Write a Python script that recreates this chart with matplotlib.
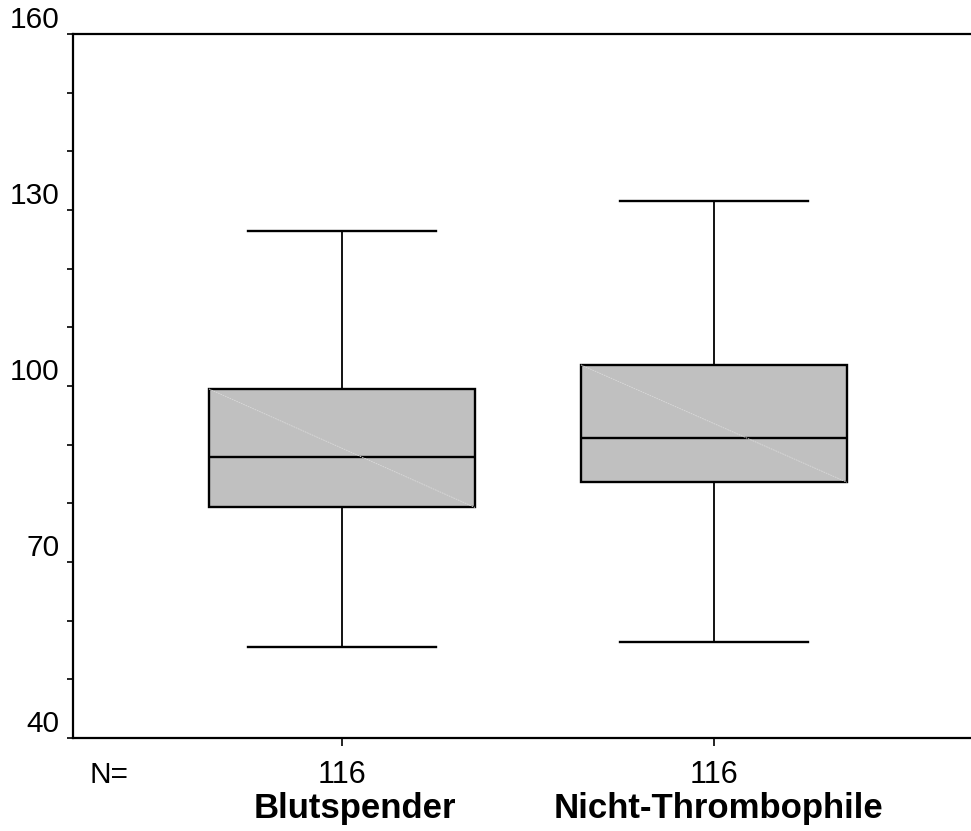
import matplotlib.pyplot as plt
from matplotlib.ticker import MultipleLocator

plt.rcParams['font.family'] = ['Liberation Sans', 'DejaVu Sans']

# box summary per group
groups = ['Blutspender', 'Nicht-Thrombophile']
n_vals = [116, 116]
whisker_low = [55.5, 56.3]
q1 = [79.3, 83.6]
median = [87.9, 91.2]
q3 = [99.5, 103.6]
whisker_high = [126.4, 131.6]
positions = [1, 2]
y_labels = [40, 70, 100, 130, 160]

stats = []
for i in range(len(groups)):
    stats.append({'label': groups[i], 'whislo': whisker_low[i], 'q1': q1[i],
                  'med': median[i], 'q3': q3[i], 'whishi': whisker_high[i], 'fliers': []})

fig = plt.figure(figsize=(9.71, 8.31), dpi=100)
ax = fig.add_axes([0.0752, 0.1119, 0.9248, 0.959 - 0.1119])

bw = 0.715
ax.bxp(stats, positions=positions, widths=bw, capwidths=0.503, patch_artist=True,
       showfliers=False,
       boxprops=dict(facecolor='#c0c0c0', edgecolor='black', linewidth=1.7),
       medianprops=dict(color='black', linewidth=1.7),
       whiskerprops=dict(color='black', linewidth=1.3),
       capprops=dict(color='black', linewidth=1.7))

# faint diagonal across each box
for i in range(len(groups)):
    ax.plot([positions[i] - bw / 2, positions[i] + bw / 2], [q3[i], q1[i]],
            color='#dadada', linewidth=0.6, linestyle=(0, (2, 1)), zorder=2.5)

ax.set_xlim(0.277, 2.691)
ax.set_ylim(40, 160)

ax.spines['right'].set_visible(False)
for s in ['left', 'top', 'bottom']:
    ax.spines[s].set_linewidth(1.6)

ax.set_yticks(y_labels)
ax.yaxis.set_minor_locator(MultipleLocator(10))
ax.tick_params(axis='y', which='both', direction='out', length=4.5, width=1.2,
               labelsize=21.5, pad=5)
for lab in ax.get_yticklabels():
    lab.set_verticalalignment('bottom')

ax.set_xticks(positions)
ax.set_xticklabels([])
ax.tick_params(axis='x', direction='out', length=6, width=1.2)

name_shift = [9, 3]
for i in range(len(groups)):
    ax.annotate(str(n_vals[i]), xy=(positions[i], 0), xycoords=('data', 'axes fraction'),
                xytext=(0, -32.4), textcoords='offset points',
                ha='center', va='baseline', fontsize=22)
    ax.annotate(groups[i], xy=(positions[i], 0), xycoords=('data', 'axes fraction'),
                xytext=(name_shift[i], -57.6), textcoords='offset points',
                ha='center', va='baseline', fontsize=25, fontweight='bold')

ax.annotate('N=', xy=(0, 0), xycoords='axes fraction', xytext=(12.2, -32.4),
            textcoords='offset points', ha='left', va='baseline', fontsize=21.5)

fig.savefig('out.png', dpi=100)
